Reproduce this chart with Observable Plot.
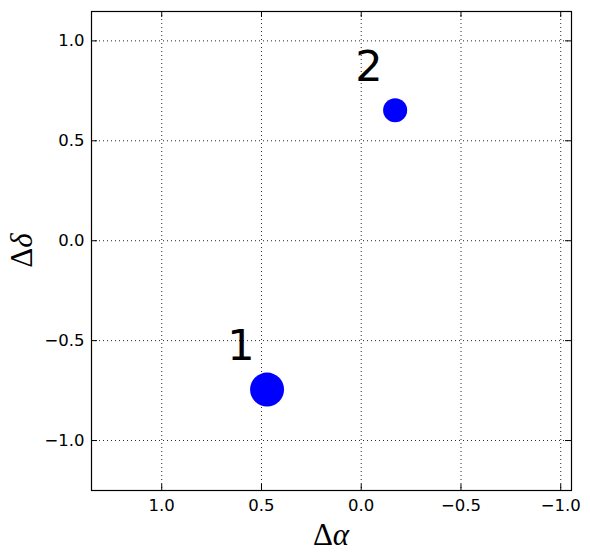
<!DOCTYPE html>
<html><head><meta charset="utf-8">
<script src="https://cdn.jsdelivr.net/npm/d3@7"></script>
<script src="https://cdn.jsdelivr.net/npm/@observablehq/plot@0.6"></script>
<style>body{margin:0;background:#fff}</style>
</head><body><div id="chart"></div>
<script>
// data
const ids = ["1", "2"];
const dAlpha = [0.472, -0.170];
const dDelta = [-0.745, 0.653];
const flux = [1.0, 0.5];
const xTicks = [1.0, 0.5, 0.0, -0.5, -1.0];
const yTicks = [-1.0, -0.5, 0.0, 0.5, 1.0];
const xDomain = [1.352, -1.054];
const yDomain = [-1.25, 1.147];
const labelShift = {dx: 0.2, dy: 0.148};

const rows = ids.map((id, i) => ({id, x: dAlpha[i], y: dDelta[i], f: flux[i]}));

const W = 590, H = 558;
const mL = 91, mR = 19, mT = 11, mB = 68;
const innerH = H - mT - mB, innerW = W - mL - mR;
const tickLen = 6;
const grid = {stroke: "#000", strokeWidth: 1, strokeDasharray: "1,3", strokeOpacity: 0.85};

const plot = Plot.plot({
  width: W, height: H,
  marginLeft: mL, marginRight: mR, marginTop: mT, marginBottom: mB,
  style: {fontFamily: "DejaVu Sans", background: "#fff", color: "#000"},
  x: {domain: xDomain, ticks: xTicks, label: null},
  y: {domain: yDomain, ticks: yTicks, label: null},
  r: {type: "sqrt", domain: [0, 1], range: [0, 17]},
  marks: [
    Plot.gridX(xTicks, {...grid}),
    Plot.gridY(yTicks, {...grid}),
    // inside ticks
    Plot.tickX(xTicks, {x: d => d, stroke: "#000", insetTop: innerH - tickLen}),
    Plot.tickX(xTicks, {x: d => d, stroke: "#000", insetBottom: innerH - tickLen}),
    Plot.tickY(yTicks, {y: d => d, stroke: "#000", insetRight: innerW - tickLen}),
    Plot.tickY(yTicks, {y: d => d, stroke: "#000", insetLeft: innerW - tickLen}),
    Plot.axisX(xTicks, {tickSize: 0, tickPadding: 9, fontSize: 16.5, label: null}),
    Plot.axisY(yTicks, {tickSize: 0, tickPadding: 7, fontSize: 16.5, label: null}),
    Plot.dot(rows, {x: "x", y: "y", r: "f", fill: "#0000ff", stroke: null}),
    Plot.text(rows, {
      x: d => d.x + labelShift.dx, y: d => d.y + labelShift.dy, text: "id",
      textAnchor: "start", lineAnchor: "bottom", fontSize: 43, fill: "#000",
      fontFamily: "DejaVu Sans"
    }),
    Plot.frame({stroke: "#000", strokeWidth: 1.2})
  ]
});

document.getElementById("chart").appendChild(plot);

// math-style axis labels
const svg = d3.select(plot);
const xl = svg.append("text")
  .attr("x", mL + innerW / 2).attr("y", 545)
  .attr("text-anchor", "middle")
  .attr("font-family", "Liberation Serif, DejaVu Serif, serif")
  .attr("font-size", 31).attr("fill", "#000");
xl.append("tspan").text("Δ");
xl.append("tspan").attr("font-style", "italic").text("α");

const yl = svg.append("text")
  .attr("transform", `translate(32,${mT + innerH / 2}) rotate(-90)`)
  .attr("text-anchor", "middle")
  .attr("font-family", "Liberation Serif, DejaVu Serif, serif")
  .attr("font-size", 31).attr("fill", "#000");
yl.append("tspan").text("Δ");
yl.append("tspan").attr("font-style", "italic").text("δ");
</script>
</body></html>
